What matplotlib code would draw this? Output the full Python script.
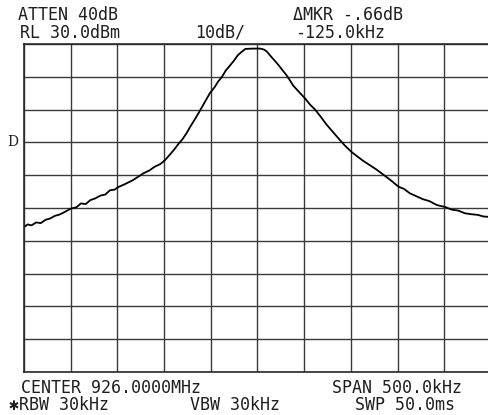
import numpy as np
import matplotlib
matplotlib.use("Agg")
import matplotlib.pyplot as plt

# trace: offset from center (kHz) and level (dBm)
freq_khz = [-250, -246, -242, -237, -232, -227, -222, -217, -212, -207,
            -200, -194, -189, -184, -179, -174, -168, -163, -158, -153,
            -149, -144, -139, -134, -129, -122, -116, -110, -104, -99,
            -94, -89, -85, -80, -76, -72, -68, -63, -59, -55,
            -51, -46, -42, -38, -34, -29, -25, -21, -17, -13,
            -5, 3, 7, 10, 15, 21, 26, 31, 35, 38,
            45, 51, 56, 62, 68, 74, 81, 88, 94, 101,
            107, 113, 120, 127, 135, 142, 151, 157, 163, 170,
            177, 184, 192, 201, 208, 215, 222, 229, 236, 242, 248]
level_dbm = [-25.8, -25.0, -25.3, -24.4, -24.6, -23.6, -23.2, -22.4, -22.0, -21.3,
             -20.2, -19.8, -18.6, -18.8, -17.6, -17.1, -16.2, -15.9, -14.6, -14.4,
             -13.6, -13.0, -12.3, -11.6, -10.7, -9.4, -8.6, -7.4, -6.6, -5.4,
             -3.8, -2.1, -0.6, 1.1, 2.8, 4.8, 6.6, 9.0, 11.0, 13.0,
             15.0, 16.8, 18.6, 20.0, 21.9, 23.6, 25.0, 26.6, 27.6, 28.5,
             28.6, 28.6, 28.3, 27.7, 26.0, 24.1, 22.3, 20.5, 18.8, 17.4,
             15.2, 13.4, 11.6, 9.9, 7.7, 5.4, 3.1, 0.8, -1.1, -3.0,
             -4.3, -5.6, -6.9, -8.2, -9.9, -11.4, -13.5, -14.2, -15.5, -16.4,
             -17.3, -17.9, -19.1, -19.7, -20.5, -20.8, -21.6, -21.9, -22.1, -22.6, -22.7]

ref_level = 30.0
db_per_div = 10
span_khz = 500.0

fig = plt.figure(figsize=(4.89, 4.15), dpi=100)
fig.patch.set_facecolor("white")
ax = fig.add_axes([24 / 489, 43 / 415, 467 / 489, 328 / 415])

ax.plot(freq_khz, level_dbm, color="black", lw=1.3)

ax.set_xlim(-span_khz / 2, span_khz / 2)
ax.set_ylim(ref_level - 10 * db_per_div, ref_level)
ax.set_xticks(np.linspace(-span_khz / 2, span_khz / 2, 11))
ax.set_yticks(np.arange(ref_level - 10 * db_per_div, ref_level + 1, db_per_div))
ax.tick_params(length=0, labelbottom=False, labelleft=False)
ax.grid(True, color="#3a3a3a", lw=1.0)
for s in ax.spines.values():
    s.set_color("#2a2a2a")
    s.set_linewidth(1.2)

mono = ["DejaVu Sans Mono", "DejaVu Sans"]
tc = "#1e1e1e"
fs = 12

def label(x, y, s, **kw):
    fig.text(x / 489, 1 - y / 415, s, family=mono, fontsize=fs, color=tc,
             ha="left", va="center", **kw)

label(18, 15, "ATTEN 40dB")
label(20, 32.5, "RL 30.0dBm")
label(195, 32.5, "10dB/")
label(293, 15, "ΔMKR -.66dB")
label(295, 32.5, "-125.0kHz")
label(21, 388, "CENTER 926.0000MHz")
label(332, 388, "SPAN 500.0kHz")
label(9, 405, "✱RBW 30kHz")
label(190, 405, "VBW 30kHz")
label(355, 405, "SWP 50.0ms")
fig.text(7 / 489, 1 - 142 / 415, "D", family="DejaVu Serif", fontsize=10,
         color=tc, ha="left", va="center")

fig.savefig("out.png", dpi=100)
